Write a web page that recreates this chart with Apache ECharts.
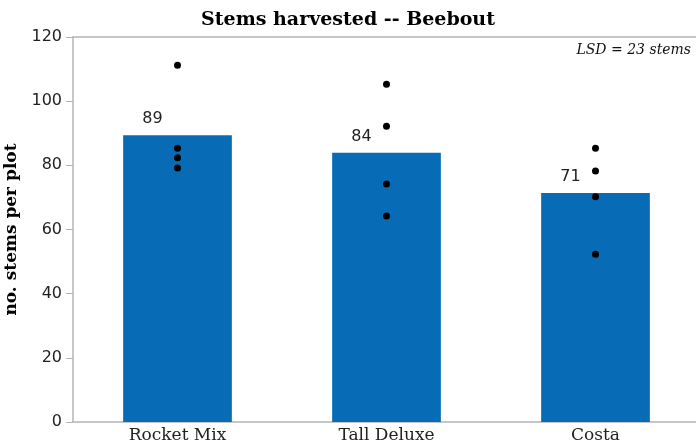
<!DOCTYPE html>
<html>
<head>
<meta charset="utf-8">
<script src="https://cdn.jsdelivr.net/npm/echarts@6/dist/echarts.min.js"></script>
<style>
  html, body { margin: 0; padding: 0; background: #fff; }
  #chart { width: 696px; height: 443px; }
</style>
</head>
<body>
<div id="chart"></div>
<script>
// 品种 / 平均值 / 各小区值
var varieties = ['Rocket Mix', 'Tall Deluxe', 'Costa'];
var meanStems = [89.4, 83.9, 71.4];
var plotRocket = [111.2, 85.3, 82.4, 79.2];
var plotTall = [105.3, 92.2, 74.2, 64.2];
var plotCosta = [85.3, 78.2, 70.2, 52.3];
var yTicks = [0, 20, 40, 60, 80, 100, 120];

var plotPoints = [];
[plotRocket, plotTall, plotCosta].forEach(function (vals, i) {
    for (var j = 0; j < vals.length; j++) {
        plotPoints.push([i, vals[j]]);
    }
});

var serif = 'DejaVu Serif';
var sans = 'DejaVu Sans';

var chart = echarts.init(document.getElementById('chart'));

chart.setOption({
    animation: false,
    title: {
        text: 'Stems harvested -- Beebout',
        left: 'center',
        top: 6,
        textStyle: {
            fontFamily: serif,
            fontWeight: 'bold',
            fontSize: 19,
            color: '#000'
        }
    },
    graphic: [{
        type: 'text',
        right: 5,
        top: 43,
        style: {
            text: 'LSD = 23 stems',
            font: 'italic 14px "DejaVu Serif"',
            fill: '#111'
        }
    }],
    grid: {
        left: 73,
        right: -4,
        top: 37,
        bottom: 21,
        containLabel: false,
        outerBoundsMode: 'none'
    },
    xAxis: [
        {
            type: 'category',
            data: varieties,
            axisLine: { lineStyle: { color: '#b4b4b4', width: 1.5 } },
            axisTick: { show: false },
            axisLabel: {
                margin: 5,
                fontFamily: serif,
                fontSize: 17,
                color: '#222'
            }
        },
        {
            type: 'category',
            data: varieties,
            position: 'top',
            axisLine: { lineStyle: { color: '#b4b4b4', width: 1.5 } },
            axisTick: { show: false },
            axisLabel: { show: false }
        }
    ],
    yAxis: {
        type: 'value',
        min: yTicks[0],
        max: yTicks[yTicks.length - 1],
        interval: 20,
        name: 'no. stems per plot',
        nameLocation: 'middle',
        nameGap: 49,
        nameTextStyle: {
            fontFamily: serif,
            fontWeight: 'bold',
            fontSize: 17,
            color: '#000'
        },
        axisLine: { show: true, lineStyle: { color: '#b4b4b4', width: 1.5 } },
        axisTick: { show: true, length: 7, lineStyle: { color: '#b4b4b4' } },
        splitLine: { show: false },
        axisLabel: {
            margin: 11,
            fontFamily: sans,
            fontSize: 16,
            color: '#222'
        }
    },
    series: [
        {
            type: 'bar',
            data: meanStems,
            barWidth: '52%',
            itemStyle: { color: '#076bb6' },
            label: {
                show: true,
                position: 'top',
                offset: [-25, -3],
                fontFamily: sans,
                fontSize: 16,
                color: '#222',
                formatter: function (p) { return Math.round(p.value); }
            }
        },
        {
            type: 'scatter',
            data: plotPoints,
            symbolSize: 7,
            itemStyle: { color: '#000', opacity: 1 }
        }
    ]
});
</script>
</body>
</html>
